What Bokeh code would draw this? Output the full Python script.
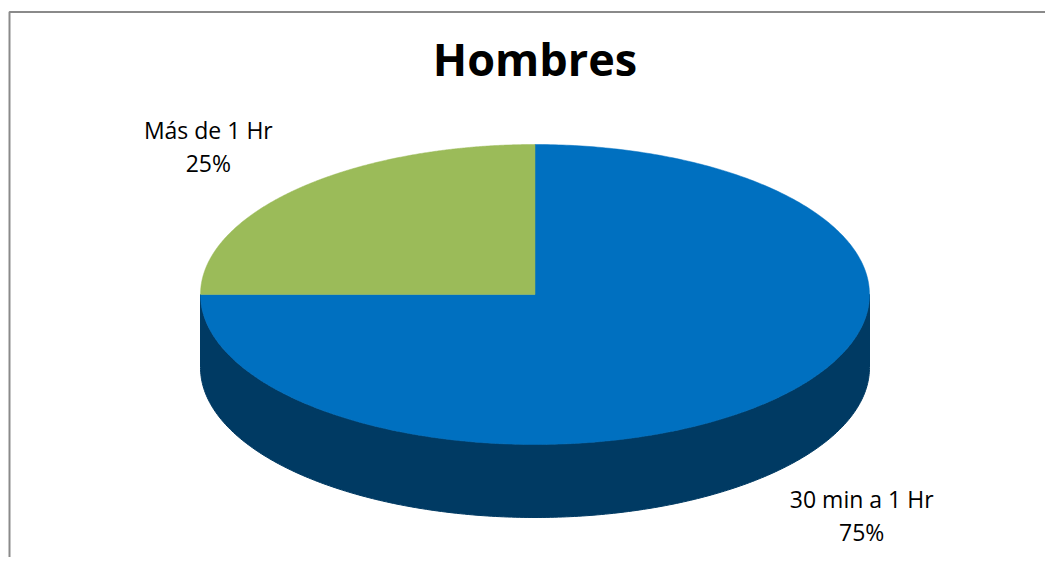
import numpy as np
from bokeh.plotting import figure
from bokeh.models import Range1d, BoxAnnotation
from bokeh.core.properties import value
from bokeh.embed import file_html
from bokeh.resources import INLINE

# ---- data ----
title_text = "Hombres"
categories = ["30 min a 1 Hr", "Más de 1 Hr"]
shares = [75, 25]
slice_colors = ["#0070C0", "#9BBB59"]

# ---- layout (page pixel coordinates) ----
W, H = 1045, 557
cx, cy = 534.5, 294.0      # centre of top ellipse
rx, ry = 334.5, 150.0      # radii of top ellipse
depth = 73.0               # thickness of the 3D pie
lab_kx, lab_ky = 462.0, 210.0
line_gap = 16.5

p = figure(width=W, height=H, output_backend="svg", toolbar_location=None,
           x_range=Range1d(0, W), y_range=Range1d(H, 0),
           min_border=0, x_axis_location=None, y_axis_location=None,
           outline_line_color=None, background_fill_color="white",
           border_fill_color="white")
p.grid.visible = False

# chart-area border (only left and top edges fall inside the window)
p.add_layout(BoxAnnotation(left=9, top=11.5, right=W + 20, bottom=H + 20,
                           fill_alpha=0, line_color="#8A8A8A", line_width=2,
                           line_alpha=1))


def darken(hexcol, f=0.52):
    r, g, b = (int(hexcol[i:i + 2], 16) for i in (1, 3, 5))
    return "#%02x%02x%02x" % (int(r * f), int(g * f), int(b * f))


total = float(sum(shares))
top_xs, top_ys, side_xs, side_ys, side_cols = [], [], [], [], []
lab_x, lab_y1, lab_y2, lab_t1, lab_t2 = [], [], [], [], []
cum = 0.0
for name, v, col in zip(categories, shares, slice_colors):
    a0 = 90.0 - 360.0 * cum / total
    a1 = a0 - 360.0 * v / total
    cum += v
    t = np.radians(np.linspace(a0, a1, 400))
    ex = cx + rx * np.cos(t)
    ey = cy - ry * np.sin(t)
    top_xs.append([cx] + list(ex))
    top_ys.append([cy] + list(ey))
    # visible side wall: part of the arc on the front half
    front = np.sin(t) <= 1e-9
    if front.sum() > 1:
        fx = ex[front]
        fy = ey[front]
        side_xs.append(list(fx) + list(fx[::-1]))
        side_ys.append(list(fy) + list((fy + depth)[::-1]))
        side_cols.append(darken(col))
    # label position
    mid = np.radians((a0 + a1) / 2.0)
    lx = cx + lab_kx * np.cos(mid)
    ly = cy - lab_ky * np.sin(mid) + (depth if np.sin(mid) < 0 else 0.0)
    lab_x.append(lx)
    lab_y1.append(ly - line_gap)
    lab_y2.append(ly + line_gap)
    lab_t1.append(name)
    lab_t2.append("%d%%" % round(100.0 * v / total))

p.patches(side_xs, side_ys, fill_color=side_cols, line_color=side_cols, line_width=1)
p.patches(top_xs, top_ys, fill_color=slice_colors, line_color=slice_colors, line_width=0.5)

font = value("Open Sans")
p.text(x=lab_x, y=lab_y1, text=lab_t1, text_font=font, text_font_size="23px",
       text_align="center", text_baseline="middle", text_color="#000000")
p.text(x=lab_x, y=lab_y2, text=lab_t2, text_font=font, text_font_size="23px",
       text_align="center", text_baseline="middle", text_color="#000000")

p.text(x=[cx], y=[58], text=[title_text], text_font=font, text_font_size="45px",
       text_font_style="bold", text_align="center", text_baseline="middle",
       text_color="#000000")

open("out.html", "w").write(file_html(p, INLINE))
